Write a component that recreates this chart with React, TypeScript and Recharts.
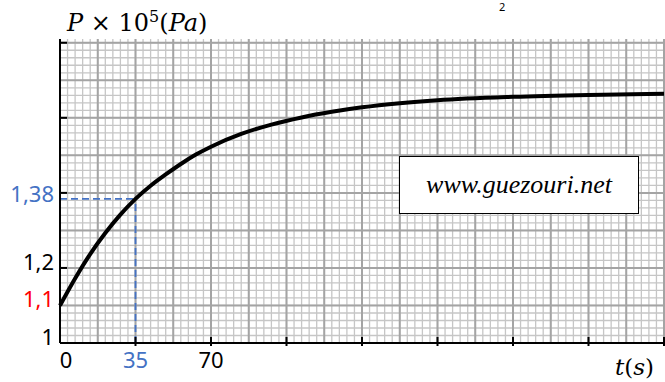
import { LineChart, Line, XAxis, YAxis, CartesianGrid, ReferenceLine } from "recharts"

// pressure curve
const times = [0, 7, 14, 21, 28, 35, 42, 49, 56, 63, 70, 84, 98, 112, 126, 140, 157.5, 175, 210, 245, 280]
const pressures = [1.1, 1.172, 1.237, 1.293, 1.342, 1.384, 1.419, 1.449, 1.477, 1.502, 1.523, 1.557, 1.582, 1.601, 1.616, 1.628, 1.639, 1.647, 1.656, 1.661, 1.664]

const xTicks = [0, 35, 70, 105, 140, 175, 210, 245, 280]
const xTickLabels = ["0", "35", "70", "", "", "", "", "", ""]
const xTickColors = ["#000", "#4472c4", "#000", "#000", "#000", "#000", "#000", "#000", "#000"]

const yTicks = [1, 1.1, 1.2, 1.38, 1.4, 1.6, 1.8]
const yTickLabels = ["1", "1,1", "1,2", "1,38", "", "", ""]
const yTickColors = ["#000", "#ff0000", "#000", "#4472c4", "#000", "#000", "#000"]
const yTickMarks = [1.2, 1.4, 1.6, 1.8]

const markT = 35
const markP = 1.384

const data = times.map((t, i) => ({ t, p: pressures[i] }))

const minorX = Array.from({ length: 81 }, (_, i) => i * 3.5)
const majorX = Array.from({ length: 17 }, (_, i) => i * 17.5)
const minorY = Array.from({ length: 41 }, (_, i) => 1 + i * 0.02)
const majorY = Array.from({ length: 9 }, (_, i) => 1 + i * 0.1)

const labelFont = "'Noto Sans', sans-serif"
const mathFont = "'DejaVu Serif', serif"

const XTick = (props: any) => {
  const { x, y, payload } = props
  const i = xTicks.indexOf(payload.value)
  return (
    <g>
      {payload.value > 0 && <line x1={x} x2={x} y1={y - 6} y2={y + 3} stroke="#000" strokeWidth={2} />}
      <text
        x={payload.value === 0 ? x + 6 : x}
        y={y + 16}
        textAnchor="middle"
        dominantBaseline="central"
        fontFamily={labelFont}
        fontSize={22}
        fill={xTickColors[i]}
      >
        {xTickLabels[i]}
      </text>
    </g>
  )
}

const YTick = (props: any) => {
  const { x, y, payload } = props
  const i = yTicks.indexOf(payload.value)
  return (
    <g>
      {yTickMarks.includes(payload.value) && <line x1={x} x2={x + 7} y1={y} y2={y} stroke="#000" strokeWidth={2} />}
      <text
        x={x - 6}
        y={y - 7}
        textAnchor="end"
        dominantBaseline="central"
        fontFamily={labelFont}
        fontSize={22}
        fill={yTickColors[i]}
      >
        {yTickLabels[i]}
      </text>
    </g>
  )
}

export default function App() {
  return (
    <div style={{ position: "absolute", left: 0, top: 0, width: 665, height: 382, background: "#fff" }}>
      <LineChart width={665} height={382} data={data} margin={{ top: 39, right: 1, left: 0, bottom: 0 }}>
        <CartesianGrid stroke="#c6c6c6" strokeWidth={1.3} verticalValues={minorX} horizontalValues={minorY} />
        <CartesianGrid stroke="#a4a4a4" strokeWidth={2} verticalValues={majorX} horizontalValues={majorY} />
        <XAxis
          dataKey="t"
          type="number"
          domain={[0, 280]}
          ticks={xTicks}
          interval={0}
          tickLine={false}
          tickSize={0}
          tickMargin={0}
          height={39}
          axisLine={{ stroke: "#000", strokeWidth: 2 }}
          tick={<XTick />}
        />
        <YAxis
          type="number"
          domain={[1, 1.81]}
          ticks={yTicks}
          interval={0}
          tickLine={false}
          tickSize={0}
          tickMargin={0}
          width={60}
          axisLine={{ stroke: "#000", strokeWidth: 2 }}
          tick={<YTick />}
        />
        <ReferenceLine
          segment={[{ x: 0, y: markP }, { x: markT, y: markP }]}
          stroke="#4472c4"
          strokeWidth={1.8}
          strokeDasharray="7 4"
        />
        <ReferenceLine
          segment={[{ x: markT, y: 1 }, { x: markT, y: markP }]}
          stroke="#4472c4"
          strokeWidth={1.8}
          strokeDasharray="7 4"
        />
        <Line type="monotone" dataKey="p" stroke="#000" strokeWidth={4} dot={false} isAnimationActive={false} />
      </LineChart>
      <div
        style={{
          position: "absolute",
          left: 67,
          top: 2,
          fontFamily: mathFont,
          fontSize: 24,
          lineHeight: "30px",
          whiteSpace: "nowrap",
        }}
      >
        <i>P</i> × 10<sup style={{ fontSize: 16, verticalAlign: "9px" }}>5</sup>(<i>Pa</i>)
      </div>
      <div style={{ position: "absolute", left: 499, top: 0, fontFamily: labelFont, fontSize: 11, lineHeight: "13px" }}>2</div>
      <div
        style={{
          position: "absolute",
          left: 615,
          top: 352,
          fontFamily: mathFont,
          fontSize: 23,
          lineHeight: "30px",
          whiteSpace: "nowrap",
        }}
      >
        <i>t</i>(<i>s</i>)
      </div>
      <div
        style={{
          position: "absolute",
          left: 399,
          top: 156,
          width: 238,
          height: 56,
          border: "1.5px solid #000",
          background: "#fff",
          display: "flex",
          alignItems: "center",
          justifyContent: "center",
          fontFamily: "'Liberation Serif', serif",
          fontStyle: "italic",
          fontSize: 26,
        }}
      >
        www.guezouri.net
      </div>
    </div>
  )
}
